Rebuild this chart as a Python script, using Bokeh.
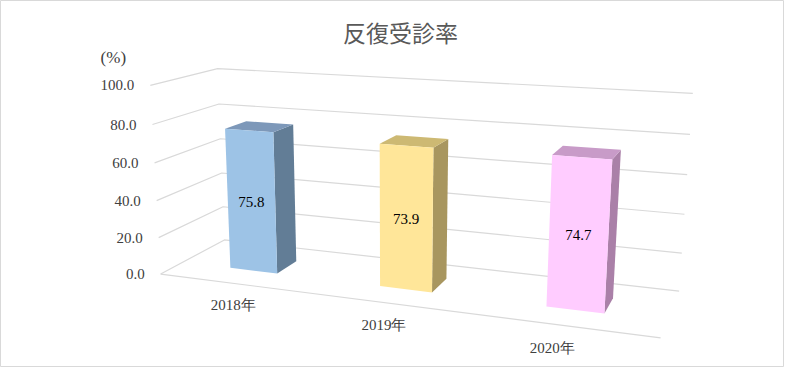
import numpy as np
from bokeh.plotting import figure
from bokeh.models import Range1d
from bokeh.embed import file_html
from bokeh.resources import INLINE
from bokeh.core.properties import value

# ---------------- data ----------------
title_text = "反復受診率"
unit_text = "(%)"
years = ["2018年", "2019年", "2020年"]
rates = [75.8, 73.9, 74.7]
y_ticks = [0, 20, 40, 60, 80, 100]
y_tick_labels = ["0.0", "20.0", "40.0", "60.0", "80.0", "100.0"]

# ---------------- styles ----------------
front_colors = ["#9DC3E6", "#FFE699", "#FFCCFF"]
side_colors = ["#627D96", "#A8965F", "#AA80A8"]
top_colors = ["#7D98B9", "#CDB973", "#C89BC8"]
grid_color = "#D9D9D9"
text_color = "#404040"
SERIF = "Liberation Serif"

W, H = 784, 367

# ---------------- 3D camera (layout anchors: box corners -> screen px) ----------------
Y_MAX = 100.0
anchor_world = [(0, 100, 0), (0, 0, 0), (0, 100, 1), (0, 0, 1),
                (1, 100, 1), (1, 0, 1), (1, 0, 0)]
anchor_px = [(148, 85), (162, 273), (219, 68), (222, 240),
             (692, 93), (679, 290), (660, 338)]


def fit_camera(world, px):
    Wd = np.array(world, float)
    Wd[:, 1] /= Y_MAX
    U = np.array(px, float)
    mu = U.mean(0)
    s = np.sqrt(2) / np.mean(np.linalg.norm(U - mu, axis=1))
    T = np.array([[s, 0, -s * mu[0]], [0, s, -s * mu[1]], [0, 0, 1]])
    Un = (U - mu) * s
    rows = []
    for (x, y, z), (u, v) in zip(Wd, Un):
        X = [x, y, z, 1.0]
        rows.append(X + [0, 0, 0, 0] + [-u * a for a in X])
        rows.append([0, 0, 0, 0] + X + [-v * a for a in X])
    _, _, Vt = np.linalg.svd(np.array(rows))
    P = Vt[-1].reshape(3, 4)
    return np.linalg.inv(T) @ P


P = fit_camera(anchor_world, anchor_px)


def proj(x, val, z):
    h = P @ np.array([x, val / Y_MAX, z, 1.0])
    return h[0] / h[2], h[1] / h[2]


# ---------------- figure ----------------
p = figure(width=W, height=H, output_backend="svg", toolbar_location=None,
           x_range=Range1d(0, W), y_range=Range1d(H, 0), min_border=0)
p.axis.visible = False
p.xgrid.visible = False
p.ygrid.visible = False
p.outline_line_color = grid_color
p.outline_line_width = 1
p.background_fill_color = "white"
p.border_fill_color = "white"

# gridlines on left wall and back wall
gx, gy = [], []
for t in y_ticks:
    a = proj(0, t, 0)
    b = proj(0, t, 1)
    c = proj(1, t, 1)
    gx.append([a[0], b[0], c[0]])
    gy.append([a[1], b[1], c[1]])
# floor front edge
a = proj(0, 0, 0)
b = proj(1, 0, 0)
gx.append([a[0], b[0]])
gy.append([a[1], b[1]])
p.multi_line(gx, gy, line_color=grid_color, line_width=1.2)

# y tick labels
tl = [proj(0, t, 0) for t in y_ticks]
p.text(x=[q[0] - 16 for q in tl], y=[q[1] for q in tl], text=y_tick_labels,
       text_font=value(SERIF), text_font_size="15px", text_color=text_color,
       text_align="right", text_baseline="middle")

# bars
n = len(years)
half_w = 0.054
z0, z1 = 0.33, 0.67
corner = proj(0, 0, 0)
fx, fy, sx, sy, tx, ty = [], [], [], [], [], []
lab_x, lab_y = [], []
cat_x, cat_y = [], []
for i, v in enumerate(rates):
    xc = (i + 0.5) / n
    xl, xr = xc - half_w, xc + half_w
    front = [proj(xl, 0, z0), proj(xr, 0, z0), proj(xr, v, z0), proj(xl, v, z0)]
    side = [proj(xr, 0, z0), proj(xr, 0, z1), proj(xr, v, z1), proj(xr, v, z0)]
    top = [proj(xl, v, z0), proj(xr, v, z0), proj(xr, v, z1), proj(xl, v, z1)]
    fx.append([q[0] for q in front]); fy.append([q[1] for q in front])
    sx.append([q[0] for q in side]); sy.append([q[1] for q in side])
    tx.append([q[0] for q in top]); ty.append([q[1] for q in top])
    lp = proj(xc, v * 0.5, z0)
    lab_x.append(lp[0]); lab_y.append(lp[1])
    cp = proj(xc, 0, 0)
    cat_x.append(corner[0] + 0.961 * (cp[0] - corner[0]) + 3)
    cat_y.append(cp[1] + 22)

p.patches(sx, sy, fill_color=side_colors, line_color=None)
p.patches(tx, ty, fill_color=top_colors, line_color=None)
p.patches(fx, fy, fill_color=front_colors, line_color=None)

p.text(x=lab_x, y=lab_y, text=[f"{r:.1f}" for r in rates],
       text_font=value(SERIF), text_font_size="15px", text_color="#000000",
       text_align="center", text_baseline="middle")

p.text(x=cat_x, y=cat_y, text=years,
       text_font=value(SERIF), text_font_size="15px", text_color=text_color,
       text_align="center", text_baseline="middle")

# unit label
up = proj(0, 100, 0)
p.text(x=[up[0] - 37], y=[up[1] - 28], text=[unit_text],
       text_font=value(SERIF), text_font_size="17px", text_color=text_color,
       text_align="center", text_baseline="middle")

# title
p.text(x=[400], y=[31], text=[title_text],
       text_font=value("Noto Sans CJK JP"), text_font_size="23px",
       text_color="#595959", text_align="center", text_baseline="middle")

open("out.html", "w").write(file_html(p, INLINE))
